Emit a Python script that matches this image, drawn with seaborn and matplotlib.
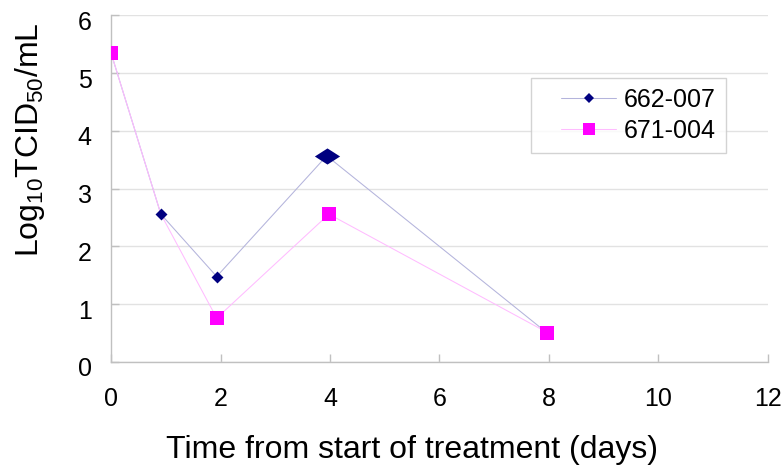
import matplotlib
matplotlib.use("Agg")
import matplotlib.pyplot as plt
import matplotlib.transforms as mtransforms
from matplotlib.lines import Line2D
from matplotlib.legend_handler import HandlerLine2D
import seaborn as sns
import pandas as pd

# ---- data ----
series_names = ["662-007", "671-004"]
days_662 = [0.0, 0.91, 1.93, 3.94, 7.97]
titer_662 = [5.35, 2.56, 1.48, 3.57, 0.50]
days_671 = [0.0, 0.91, 1.93, 3.98, 7.97]
titer_671 = [5.35, 2.56, 0.76, 2.56, 0.51]
x_ticks = [0, 2, 4, 6, 8, 10, 12]
y_ticks = [0, 1, 2, 3, 4, 5, 6]
x_label = "Time from start of treatment (days)"
y_label = r"Log$_{\rm 10}$TCID$_{\rm 50}$/mL"

# marker styling per point (Excel-style per-point formatting)
big_marker_662 = 3          # index of the enlarged diamond
hidden_marker_671 = [1]     # point without a visible marker

sns.set_theme(style="white")
plt.rcParams["font.family"] = ["Liberation Sans", "DejaVu Sans"]
plt.rcParams["mathtext.fontset"] = "custom"
plt.rcParams["mathtext.rm"] = "Liberation Sans"
plt.rcParams["mathtext.it"] = "Liberation Sans:italic"
plt.rcParams["mathtext.bf"] = "Liberation Sans:bold"
plt.rcParams["text.color"] = "black"
plt.rcParams["axes.labelcolor"] = "black"
plt.rcParams["xtick.color"] = "black"
plt.rcParams["ytick.color"] = "black"
plt.rcParams["legend.labelcolor"] = "black"

df = pd.concat([
    pd.DataFrame({"day": days_662, "titer": titer_662, "series": series_names[0], "idx": range(len(days_662))}),
    pd.DataFrame({"day": days_671, "titer": titer_671, "series": series_names[1], "idx": range(len(days_671))}),
], ignore_index=True)

navy = "#000080"
magenta = "#FF00FF"
line_colors = {series_names[0]: "#b4b4dc", series_names[1]: "#ffbcff"}

fig = plt.figure(figsize=(7.82, 4.66), dpi=100)
ax = fig.add_axes([0.142, 0.2232, 0.840, 0.7436])

sns.lineplot(data=df, x="day", y="titer", hue="series", palette=line_colors,
             sort=False, estimator=None, legend=False, linewidth=0.75, ax=ax, zorder=2)

d662 = df[df.series == series_names[0]]
d671 = df[df.series == series_names[1]]
small = d662[d662.idx != big_marker_662]
big = d662[d662.idx == big_marker_662]
sns.scatterplot(data=small, x="day", y="titer", marker="D", s=37, color=navy,
                linewidth=0, ax=ax, zorder=3, legend=False)
wide_diamond = [(-1.0, 0.0), (0.0, 0.64), (1.0, 0.0), (0.0, -0.64), (-1.0, 0.0)]
sns.scatterplot(data=big, x="day", y="titer", marker=wide_diamond, s=330, color=navy,
                linewidth=0, ax=ax, zorder=3, legend=False)
shown671 = d671[~d671.idx.isin(hidden_marker_671)]
sns.scatterplot(data=shown671, x="day", y="titer", marker="s", s=88, color=magenta,
                linewidth=0, ax=ax, zorder=4, legend=False)

ax.set_xlim(0, 12)
ax.set_ylim(0, 6)
ax.set_xticks(x_ticks)
ax.set_yticks(y_ticks)
ax.set_xticklabels([str(t) for t in x_ticks], fontsize=18)
ax.set_yticklabels([str(t) for t in y_ticks], fontsize=18)

ax.yaxis.grid(True, color="#e2e2e2", linewidth=1)
ax.xaxis.grid(False)
ax.set_axisbelow(True)

for s in ["top", "right"]:
    ax.spines[s].set_visible(False)
for s in ["left", "bottom"]:
    ax.spines[s].set_color("#c0c0c0")
    ax.spines[s].set_linewidth(1)

ax.tick_params(axis="both", direction="in", length=6, width=1, color="#c0c0c0",
               labelcolor="black")
ax.tick_params(axis="x", pad=18, bottom=True)
ax.tick_params(axis="y", pad=14, left=True)
ax.xaxis.get_major_ticks()[1].tick1line.set_color("black")
ax.yaxis.get_major_ticks()[5].tick1line.set_color("black")

off = mtransforms.ScaledTranslation(0, -5 / 100, fig.dpi_scale_trans)
for lab in ax.get_yticklabels():
    lab.set_transform(lab.get_transform() + off)

ax.set_xlabel(x_label, fontsize=23, va="top", color="black")
ax.xaxis.set_label_coords(0.458, -0.21)
ax.set_ylabel(y_label, fontsize=23, color="black")
ax.yaxis.set_label_coords(-0.098, 0.64)

handles = [
    Line2D([], [], color=line_colors[series_names[0]], linewidth=0.75, marker="D",
           markersize=5.2, markerfacecolor=navy, markeredgewidth=0),
    Line2D([], [], color=line_colors[series_names[1]], linewidth=0.75, marker="s",
           markersize=9.2, markerfacecolor=magenta, markeredgewidth=0),
]
leg = ax.legend(handles, series_names, loc="upper left", bbox_to_anchor=(0.640, 0.820),
                fontsize=18, frameon=True, fancybox=False, borderpad=0.4,
                handlelength=3.0, handletextpad=0.3, labelspacing=0.28,
                borderaxespad=0,
                handler_map={Line2D: HandlerLine2D(xpad=0.8)})
leg.get_frame().set_edgecolor("#c8c8c8")
leg.get_frame().set_linewidth(1)
for t in leg.get_texts():
    t.set_color("black")

fig.savefig("out.png", dpi=100)
